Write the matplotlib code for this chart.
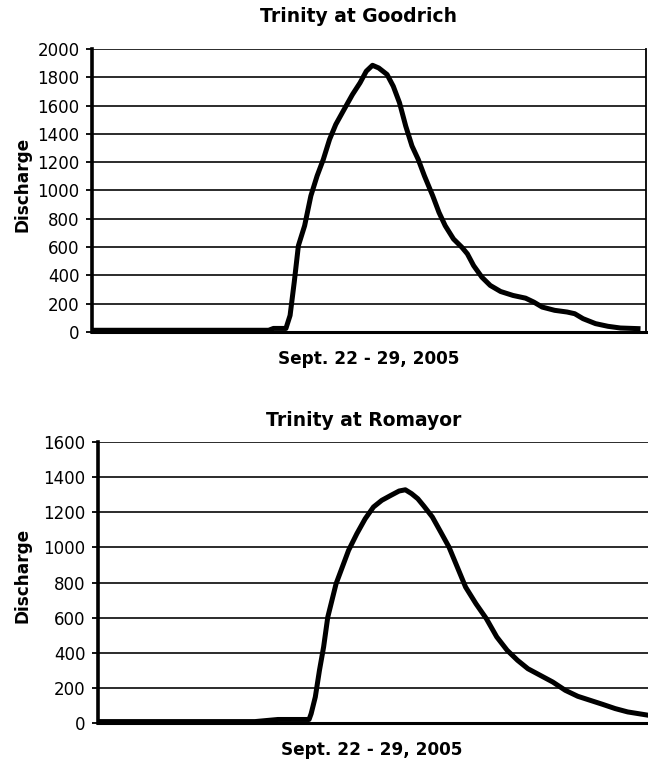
import matplotlib
matplotlib.use('Agg')
import matplotlib.pyplot as plt

# Trinity at Goodrich, discharge (x in days from Sept. 22)
goodrich_days = [0.0, 0.5, 1.0, 1.5, 2.0, 2.55, 2.62, 2.80, 2.86, 2.92, 2.98, 3.07,
                 3.16, 3.25, 3.34, 3.43, 3.52, 3.64, 3.76, 3.87, 3.96, 4.05, 4.14,
                 4.26, 4.35, 4.44, 4.53, 4.62, 4.71, 4.80, 4.92, 5.01, 5.10, 5.22,
                 5.34, 5.42, 5.51, 5.63, 5.75, 5.90, 6.08, 6.26, 6.38, 6.50, 6.68,
                 6.86, 6.97, 7.09, 7.27, 7.45, 7.63, 7.92]
goodrich_q = [12, 12, 12, 12, 12, 12, 25, 25, 117, 352, 610, 751,
              962, 1103, 1220, 1361, 1467, 1573, 1678, 1761, 1843, 1885, 1866,
              1820, 1737, 1620, 1455, 1315, 1220, 1103, 962, 845, 751, 657,
              599, 552, 469, 387, 329, 286, 258, 239, 211, 176, 153,
              141, 129, 94, 59, 40, 28, 23]

# Trinity at Romayor
romayor_days = [0.0, 0.5, 1.0, 1.5, 2.0, 2.27, 2.60, 3.05, 3.08, 3.14, 3.20, 3.26,
                3.32, 3.38, 3.44, 3.53, 3.62, 3.74, 3.86, 3.98, 4.10, 4.23, 4.35,
                4.44, 4.53, 4.62, 4.71, 4.83, 4.95, 5.07, 5.19, 5.31, 5.46, 5.61,
                5.76, 5.91, 6.06, 6.21, 6.39, 6.57, 6.75, 6.93, 7.11, 7.29, 7.47,
                7.65, 7.95]
romayor_q = [8, 8, 8, 8, 8, 8, 20, 20, 53, 148, 300, 433,
             603, 698, 793, 888, 983, 1078, 1163, 1230, 1268, 1296, 1321,
             1328, 1306, 1277, 1234, 1173, 1088, 1002, 888, 774, 679, 594,
             490, 414, 357, 309, 271, 233, 186, 152, 129, 106, 82,
             63, 44]

goodrich_ticks = list(range(0, 2001, 200))
romayor_ticks = list(range(0, 1601, 200))
xlabel = "Sept. 22 - 29, 2005"

fig = plt.figure(figsize=(6.48, 7.6), dpi=100)


def hydrograph(rect, days, q, ticks, right_spine):
    ax = fig.add_axes(rect)
    ax.plot(days, q, color='black', lw=3.6, solid_joinstyle='round',
            solid_capstyle='butt', zorder=3)
    ax.set_xlim(0, 8)
    ax.set_ylim(0, ticks[-1])
    ax.set_yticks(ticks)
    ax.set_xticks([])
    for t in ticks[1:]:
        ax.axhline(t, color='#1a1a1a', lw=1.3, zorder=1)
    ax.tick_params(axis='y', length=4, width=1.3, pad=5, labelsize=12,
                   colors='black')
    ax.spines['left'].set_linewidth(2.6)
    ax.spines['bottom'].set_linewidth(2.2)
    ax.spines['top'].set_visible(False)
    ax.spines['right'].set_visible(right_spine)
    ax.spines['right'].set_linewidth(1.3)
    return ax


hydrograph([0.142, 0.5632, 0.855, 0.3723], goodrich_days, goodrich_q,
           goodrich_ticks, True)
hydrograph([0.151, 0.0487, 0.855, 0.3697], romayor_days, romayor_q,
           romayor_ticks, False)

fig.text(0.553, 0.978, "Trinity at Goodrich", ha='center', va='center',
         fontsize=13.5, fontweight='bold')
fig.text(0.569, 0.528, xlabel, ha='center', va='center',
         fontsize=12.2, fontweight='bold')
fig.text(0.034, 0.757, "Discharge", ha='center', va='center', rotation=90,
         fontsize=12.2, fontweight='bold')

fig.text(0.562, 0.447, "Trinity at Romayor", ha='center', va='center',
         fontsize=13.5, fontweight='bold')
fig.text(0.574, 0.013, xlabel, ha='center', va='center',
         fontsize=12.2, fontweight='bold')
fig.text(0.034, 0.243, "Discharge", ha='center', va='center', rotation=90,
         fontsize=12.2, fontweight='bold')

fig.savefig("out.png", dpi=100)
